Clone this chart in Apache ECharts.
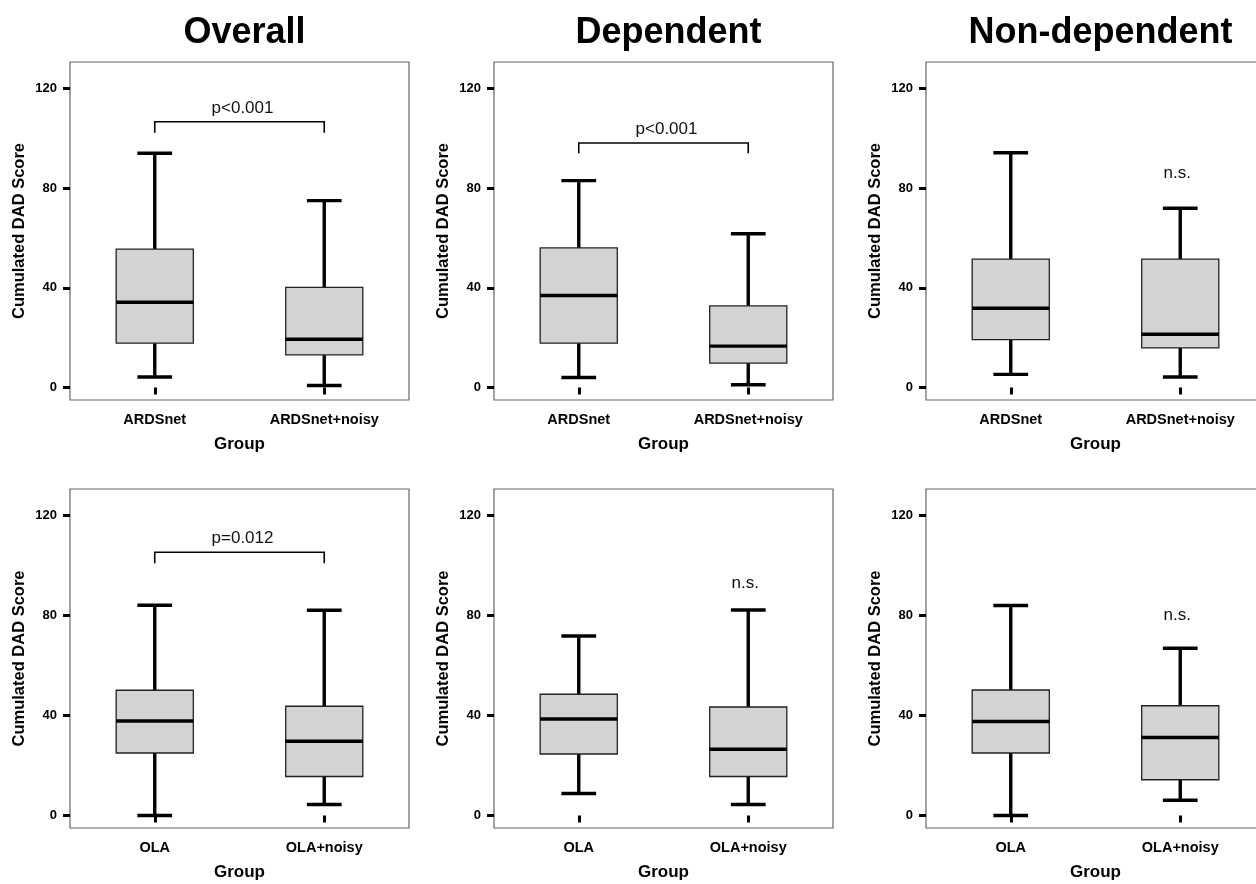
<!DOCTYPE html>
<html>
<head>
<meta charset="utf-8">
<script src="https://cdn.jsdelivr.net/npm/echarts@6/dist/echarts.min.js"></script>
<style>
  html, body { margin: 0; padding: 0; background: #fff; overflow: hidden; width: 1256px; height: 884px; }
  #chart { width: 1272px; height: 884px; }
</style>
</head>
<body>
<div id="chart"></div>
<script>
// ---------- data ----------
const panelTitles = ['Overall', 'Dependent', 'Non-dependent'];
const catsTop = ['ARDSnet', 'ARDSnet+noisy'];
const catsBottom = ['OLA', 'OLA+noisy'];
const yTicks = [0, 40, 80, 120];
const yAxisName = 'Cumulated DAD Score';
const xAxisName = 'Group';

// each box: [min, Q1, median, Q3, max]
const ardsOverall      = [[4.2, 17.8, 34.2, 55.5, 94.0], [0.8, 13.1, 19.4, 40.2, 75.0]];
const ardsDependent    = [[4.0, 17.8, 36.9, 56.0, 83.0], [1.1, 9.8, 16.6, 32.8, 61.7]];
const ardsNonDependent = [[5.3, 19.2, 31.8, 51.5, 94.2], [4.2, 15.9, 21.4, 51.5, 71.9]];
const olaOverall       = [[0.0, 25.0, 37.8, 50.1, 84.1], [4.4, 15.6, 29.7, 43.7, 82.1]];
const olaDependent     = [[8.8, 24.6, 38.6, 48.5, 71.8], [4.4, 15.6, 26.5, 43.4, 82.2]];
const olaNonDependent  = [[0.0, 25.0, 37.6, 50.2, 84.0], [6.1, 14.3, 31.2, 43.9, 66.9]];

// annotations per panel (order: top row L->R, bottom row L->R)
const annotationText = ['p<0.001', 'p<0.001', 'n.s.', 'p=0.012', 'n.s.', 'n.s.'];
const bracketTop     = [106.6, 98.1, null, 105.3, null, null];
const bracketBottom  = [102.2, 94.0, null, 100.9, null, null];
const nsLabelY       = [null, null, 86.0, null, 92.9, 80.2];

// ---------- layout ----------
const FONT = 'Liberation Sans, Arial, Helvetica, sans-serif';
const panels = [
  { data: ardsOverall,      cats: catsTop,    left: 70,  top: 62,  height: 338 },
  { data: ardsDependent,    cats: catsTop,    left: 494, top: 62,  height: 338 },
  { data: ardsNonDependent, cats: catsTop,    left: 926, top: 62,  height: 338 },
  { data: olaOverall,       cats: catsBottom, left: 70,  top: 489, height: 339 },
  { data: olaDependent,     cats: catsBottom, left: 494, top: 489, height: 339 },
  { data: olaNonDependent,  cats: catsBottom, left: 926, top: 489, height: 339 }
];
const PANEL_W = 339;

function renderBox(params, api) {
  const x = api.value(0);
  const pMin = api.coord([x, api.value(1)]);
  const pQ1 = api.coord([x, api.value(2)]);
  const pMed = api.coord([x, api.value(3)]);
  const pQ3 = api.coord([x, api.value(4)]);
  const pMax = api.coord([x, api.value(5)]);
  const band = api.size([1, 0])[0];
  const bw = band * 0.455, cw = band * 0.205;
  const cx = pMin[0];
  const thick = { stroke: '#000', lineWidth: 3.4 };
  return {
    type: 'group',
    children: [
      { type: 'line', shape: { x1: cx, y1: pMax[1], x2: cx, y2: pQ3[1] }, style: thick },
      { type: 'line', shape: { x1: cx, y1: pQ1[1], x2: cx, y2: pMin[1] }, style: thick },
      { type: 'line', shape: { x1: cx - cw / 2, y1: pMax[1], x2: cx + cw / 2, y2: pMax[1] }, style: thick },
      { type: 'line', shape: { x1: cx - cw / 2, y1: pMin[1], x2: cx + cw / 2, y2: pMin[1] }, style: thick },
      { type: 'rect', shape: { x: cx - bw / 2, y: pQ3[1], width: bw, height: pQ1[1] - pQ3[1] },
        style: { fill: '#d3d3d3', stroke: '#222', lineWidth: 1.3 } },
      { type: 'line', shape: { x1: cx - bw / 2, y1: pMed[1], x2: cx + bw / 2, y2: pMed[1] }, style: thick }
    ]
  };
}

function makeAnnotationRenderer(idx) {
  return function (params, api) {
    const text = annotationText[idx];
    const children = [];
    if (bracketTop[idx] != null) {
      const a = api.coord([0, bracketBottom[idx]]);
      const b = api.coord([0, bracketTop[idx]]);
      const c = api.coord([1, bracketTop[idx]]);
      const d = api.coord([1, bracketBottom[idx]]);
      children.push({
        type: 'polyline',
        shape: { points: [a, b, c, d] },
        style: { stroke: '#000', lineWidth: 1.6, fill: null }
      });
      children.push({
        type: 'text',
        x: (b[0] + c[0]) / 2 + 3, y: b[1] - 5,
        style: { text: text, fontFamily: FONT, fontSize: 17, fill: '#111', align: 'center', verticalAlign: 'bottom' }
      });
    } else {
      const p = api.coord([1, nsLabelY[idx]]);
      children.push({
        type: 'text',
        x: p[0] - 3, y: p[1],
        style: { text: text, fontFamily: FONT, fontSize: 17, fill: '#111', align: 'center', verticalAlign: 'middle' }
      });
    }
    return { type: 'group', children: children };
  };
}

const grid = [], xAxis = [], yAxis = [], series = [], title = [];
panels.forEach((p, i) => {
  grid.push({ left: p.left, top: p.top, width: PANEL_W, height: p.height,
    show: true, borderColor: '#666', borderWidth: 1.2, backgroundColor: 'transparent',
    outerBoundsMode: 'none' });
  xAxis.push({
    type: 'category', gridIndex: i, data: p.cats,
    axisLine: { show: false },
    axisTick: { show: true, alignWithLabel: true, length: 7, lineStyle: { color: '#000', width: 3 } },
    axisLabel: { color: '#000', fontFamily: FONT, fontWeight: 'bold', fontSize: 14.5, margin: 12 },
    name: xAxisName, nameLocation: 'middle', nameGap: 36,
    nameTextStyle: { color: '#000', fontFamily: FONT, fontWeight: 'bold', fontSize: 17 },
    splitLine: { show: false }
  });
  yAxis.push({
    type: 'value', gridIndex: i, min: -5, max: 130.6,
    axisLine: { show: false },
    axisTick: { show: true, length: 7, lineStyle: { color: '#000', width: 3 }, customValues: yTicks },
    axisLabel: { color: '#000', fontFamily: FONT, fontWeight: 'bold', fontSize: 13, margin: 13, customValues: yTicks },
    splitLine: { show: false },
    name: yAxisName, nameLocation: 'middle', nameGap: 42, nameRotate: 90,
    nameTextStyle: { color: '#000', fontFamily: FONT, fontWeight: 'bold', fontSize: 16.5 }
  });
  series.push({
    type: 'custom', xAxisIndex: i, yAxisIndex: i,
    renderItem: renderBox,
    encode: { x: 0, y: [1, 2, 3, 4, 5] },
    data: p.data.map((b, k) => [k].concat(b)),
    silent: true, clip: false
  });
  series.push({
    type: 'custom', xAxisIndex: i, yAxisIndex: i,
    renderItem: makeAnnotationRenderer(i),
    data: [[0, 0]],
    silent: true, clip: false
  });
});

panelTitles.forEach((t, i) => {
  title.push({
    text: t, left: panels[i].left + PANEL_W / 2, top: 10, textAlign: 'center',
    textStyle: { fontFamily: FONT, fontWeight: 'bold', fontSize: 36, color: '#000' }
  });
});

const chart = echarts.init(document.getElementById('chart'), null, { renderer: 'canvas' });
chart.setOption({
  animation: false,
  backgroundColor: '#fff',
  title: title,
  grid: grid,
  xAxis: xAxis,
  yAxis: yAxis,
  series: series
});
</script>
</body>
</html>
